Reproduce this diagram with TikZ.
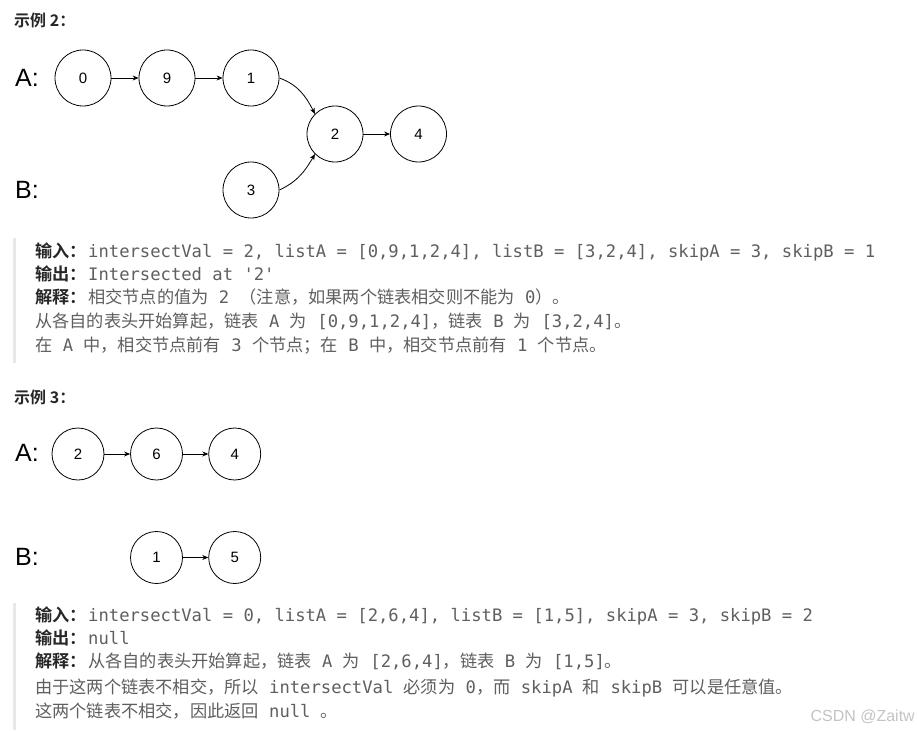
\documentclass[tikz,border=0pt]{standalone}
\usepackage{fontspec}
\usepackage{graphicx}
\setmainfont{Liberation Sans}
\setmonofont{DejaVu Sans Mono}
\newfontfamily\zh[BoldFont={Noto Sans CJK SC Bold}]{Noto Sans CJK SC}
\usetikzlibrary{arrows.meta}
\definecolor{txtgray}{HTML}{5F5F5F}
\definecolor{labgray}{HTML}{262626}
\definecolor{barc}{HTML}{E8E8E8}
\definecolor{wmark}{HTML}{C4C4C4}
\newcommand\zz[1]{{\zh\fontsize{17.2}{20}\selectfont #1}}
\newcommand\lab[1]{{\zh\bfseries\fontsize{17.2}{20}\selectfont\color{labgray}#1}\hspace{1.4pt}}
\tikzset{
  listnode/.style={circle, draw, line width=0.8pt, minimum size=56pt, inner sep=0pt,
    font=\fontsize{15}{18}\selectfont},
  smallnode/.style={listnode, minimum size=52pt},
  arr/.style={-{Stealth[length=6pt,width=5pt]}, line width=0.8pt},
  abl/.style={anchor=west, inner sep=0pt, font=\fontsize{25}{28}\selectfont},
  ttl/.style={anchor=west, inner sep=0pt, text=labgray, font=\zh\bfseries\fontsize{16}{19}\selectfont},
  tline/.style={anchor=base west, inner sep=0pt, text=txtgray, font=\ttfamily\fontsize{17.2}{20}\selectfont},
}
\begin{document}
\begin{tikzpicture}[x=1pt,y=1pt]
\useasboundingbox (0,0) rectangle (917,-730);
\fill[white] (0,0) rectangle (917,-730);

% ---------- Example 2 ----------
\node[ttl] (t2) at (14,-20) {示例 2：};
\node[abl] (la2) at (15,-78) {A:};
\node[abl] (lb2) at (15,-190) {B:};
\node[listnode] (a0) at (83,-78) {0};
\node[listnode] (a9) at (167,-78) {9};
\node[listnode] (a1) at (251,-78) {1};
\node[listnode] (c2) at (335,-134) {2};
\node[listnode] (c4) at (418.5,-134) {4};
\node[listnode] (b3) at (251,-190) {3};
\draw[arr] (a0) -- (a9);
\draw[arr] (a9) -- (a1);
\draw[arr] (c2) -- (c4);
\draw[arr] (a1.east) to[out=-20,in=117] (c2.north west);
\draw[arr] (b3.east) to[out=25,in=-120] (c2.south west);

\fill[barc] (13,-238) rectangle (16,-363);
\node[tline] (e2l1) at (35,-257) {\lab{输入：}intersectVal = 2, listA = [0,9,1,2,4], listB = [3,2,4], skipA = 3, skipB = 1};
\node[tline] (e2l2) at (35,-280) {\lab{输出：}Intersected at '2'};
\node[tline] (e2l3) at (35,-303) {\lab{解释：}\zz{相交节点的值为} 2 \zz{（注意，如果两个链表相交则不能为} 0\zz{）。}};
\node[tline] (e2l4) at (35,-327) {\zz{从各自的表头开始算起，链表} A \zz{为} [0,9,1,2,4]\zz{，链表} B \zz{为} [3,2,4]\zz{。}};
\node[tline] (e2l5) at (35,-351) {\zz{在} A \zz{中，相交节点前有} 3 \zz{个节点；在} B \zz{中，相交节点前有} 1 \zz{个节点。}};

% ---------- Example 3 ----------
\node[ttl] (t3) at (14,-397) {示例 3：};
\node[abl] (la3) at (15,-453) {A:};
\node[abl] (lb3) at (15,-557) {B:};
\node[smallnode] (p2) at (78,-454) {2};
\node[smallnode] (p6) at (156.5,-454) {6};
\node[smallnode] (p4) at (234.7,-454) {4};
\node[smallnode] (q1) at (156.5,-557.5) {1};
\node[smallnode] (q5) at (234.7,-557.5) {5};
\draw[arr] (p2) -- (p6);
\draw[arr] (p6) -- (p4);
\draw[arr] (q1) -- (q5);

\fill[barc] (13,-603) rectangle (16,-730);
\node[tline] (e3l1) at (35,-621) {\lab{输入：}intersectVal = 0, listA = [2,6,4], listB = [1,5], skipA = 3, skipB = 2};
\node[tline] (e3l2) at (35,-644) {\lab{输出：}null};
\node[tline] (e3l3) at (35,-667) {\lab{解释：}\zz{从各自的表头开始算起，链表} A \zz{为} [2,6,4]\zz{，链表} B \zz{为} [1,5]\zz{。}};
\node[tline] (e3l4) at (35,-693) {\zz{由于这两个链表不相交，所以} intersectVal \zz{必须为} 0\zz{，而} skipA \zz{和} skipB \zz{可以是任意值。}};
\node[tline] (e3l5) at (35,-717) {\zz{这两个链表不相交，因此返回} null \zz{。}};

\node[anchor=base east, inner sep=0pt, text=wmark, font=\fontsize{16}{19}\selectfont] (wm) at (915,-721) {CSDN @Zaitw};
\end{tikzpicture}
\end{document}
